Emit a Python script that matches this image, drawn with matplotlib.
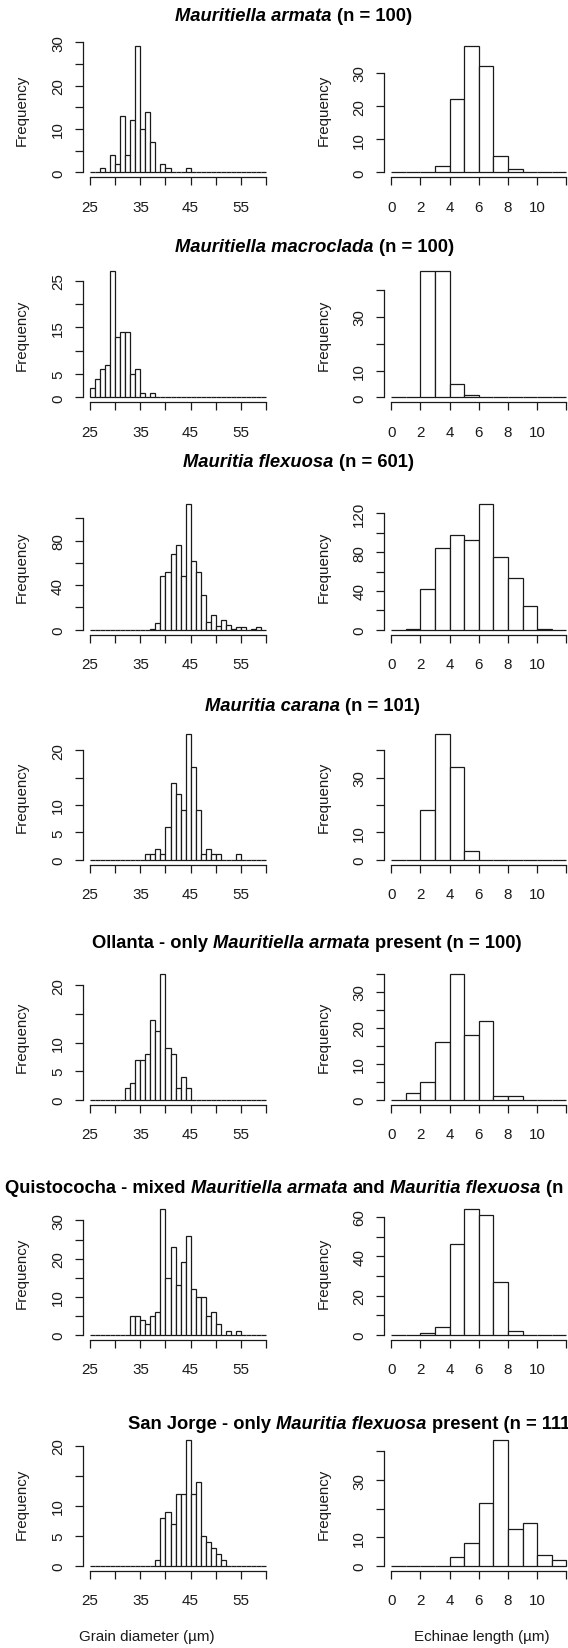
import numpy as np
import matplotlib
matplotlib.use("Agg")
import matplotlib.pyplot as plt
from matplotlib.offsetbox import TextArea, HPacker, AnnotationBbox

plt.rcParams['font.family'] = ['Liberation Sans', 'DejaVu Sans']

# histogram bins: grain diameter 25..60 um, echinae length 0..12 um (width 1)
diam_edges = np.arange(25, 61)
echin_edges = np.arange(0, 13)

# counts per 1-um bin, grain diameter (first bin = 25-26)
armata_diam = [0, 0, 1, 0, 4, 2, 13, 4, 12, 29, 10, 14, 7, 0, 2, 1, 0, 0, 0, 1,
               0, 0, 0, 0, 0, 0, 0, 0, 0, 0, 0, 0, 0, 0, 0]
macroclada_diam = [2, 4, 6, 7, 27, 13, 14, 14, 5, 6, 1, 0, 1, 0, 0, 0, 0, 0, 0, 0,
                   0, 0, 0, 0, 0, 0, 0, 0, 0, 0, 0, 0, 0, 0, 0]
flexuosa_diam = [0, 0, 0, 0, 0, 0, 0, 0, 0, 0, 0, 0, 1, 6, 48, 52, 68, 76, 48, 113,
                 62, 52, 31, 7, 13, 3, 9, 4, 1, 2, 2, 0, 1, 2, 0]
carana_diam = [0, 0, 0, 0, 0, 0, 0, 0, 0, 0, 0, 1, 1, 2, 1, 6, 14, 12, 9, 23,
               17, 9, 1, 2, 1, 1, 0, 0, 0, 1, 0, 0, 0, 0, 0]
ollanta_diam = [0, 0, 0, 0, 0, 0, 0, 2, 3, 7, 7, 8, 14, 12, 22, 9, 8, 2, 4, 2,
                0, 0, 0, 0, 0, 0, 0, 0, 0, 0, 0, 0, 0, 0, 0]
quisto_diam = [0, 0, 0, 0, 0, 0, 0, 0, 5, 5, 4, 3, 5, 6, 33, 15, 23, 13, 19, 26,
               12, 10, 10, 5, 6, 3, 0, 1, 0, 1, 0, 0, 0, 0, 0]
sanjorge_diam = [0, 0, 0, 0, 0, 0, 0, 0, 0, 0, 0, 0, 0, 1, 8, 9, 7, 12, 12, 21,
                 12, 14, 5, 4, 3, 2, 1, 0, 0, 0, 0, 0, 0, 0, 0]

# counts per 1-um bin, echinae length (first bin = 0-1)
armata_ech = [0, 0, 0, 2, 22, 38, 32, 5, 1, 0, 0, 0]
macroclada_ech = [0, 0, 47, 47, 5, 1, 0, 0, 0, 0, 0, 0]
flexuosa_ech = [0, 1, 42, 84, 98, 93, 130, 75, 53, 24, 1, 0]
carana_ech = [0, 0, 18, 46, 34, 3, 0, 0, 0, 0, 0, 0]
ollanta_ech = [0, 2, 5, 16, 35, 18, 22, 1, 1, 0, 0, 0]
quisto_ech = [0, 0, 1, 4, 46, 64, 61, 27, 2, 0, 0, 0]
sanjorge_ech = [0, 0, 0, 0, 3, 8, 22, 44, 13, 15, 4, 2]

diam_data = [armata_diam, macroclada_diam, flexuosa_diam, carana_diam,
             ollanta_diam, quisto_diam, sanjorge_diam]
ech_data = [armata_ech, macroclada_ech, flexuosa_ech, carana_ech,
            ollanta_ech, quisto_ech, sanjorge_ech]

# y tick step and the tick labels R kept (others dropped for overlap)
diam_ystep = [5, 5, 20, 5, 5, 5, 5]
diam_ylabels = [[0, 10, 20, 30], [0, 5, 15, 25], [0, 40, 80], [0, 5, 10, 20],
                [0, 5, 10, 20], [0, 10, 20, 30], [0, 5, 10, 20]]
ech_ystep = [10, 10, 20, 10, 5, 10, 10]
ech_ylabels = [[0, 10, 20, 30], [0, 10, 30], [0, 40, 80, 120], [0, 10, 30],
               [0, 10, 20, 30], [0, 20, 40, 60], [0, 10, 30]]

diam_xticks = [25, 30, 35, 40, 45, 50, 55, 60]
diam_xlabels = ['25', '', '35', '', '45', '', '55', '']
ech_xticks = [0, 2, 4, 6, 8, 10, 12]
ech_xlabels = ['0', '2', '4', '6', '8', '10', '']

titles = [
    [("Mauritiella armata", True), ("(n = 100)", False)],
    [("Mauritiella macroclada", True), ("(n = 100)", False)],
    [("Mauritia flexuosa", True), ("(n = 601)", False)],
    [("Mauritia carana", True), ("(n = 101)", False)],
    [("Ollanta - only", False), ("Mauritiella armata", True), ("present (n = 100)", False)],
    [("Quistococha - mixed", False), ("Mauritiella armata", True), ("and", False),
     ("Mauritia flexuosa", True), ("(n = 205)", False)],
    [("San Jorge - only", False), ("Mauritia flexuosa", True), ("present (n = 111)", False)],
]

# layout in pixels (measured from the top of the image)
W, H = 568, 1649
row_bottom = [178.4, 403.4, 635.7, 865.7, 1105.8, 1341.0, 1572.0]
title_x = [175, 175, 183, 205, 92, 5, 128]
title_y = [17, 248, 463, 707, 944, 1189, 1425]
plot_h = 136
left_x, left_w = 83.0, 190.1
right_x, right_w = 384.3, 189.0

ink = '#1a1a1a'
fs = 10.9

fig = plt.figure(figsize=(W / 100, H / 100), dpi=100)


def panel(x0, w, bottom, edges, counts, xticks, xlabels, ystep, ylabels):
    ax = fig.add_axes([x0 / W, (H - bottom) / H, w / W, plot_h / H])
    ax.patch.set_alpha(0)
    ax.bar(edges[:-1], counts, width=1, align='edge', color='white',
           edgecolor=ink, linewidth=0.9)
    ymax = max(counts)
    ax.set_ylim(-0.04 * ymax, 1.04 * ymax)
    span = edges[-1] - edges[0]
    ax.set_xlim(edges[0] - 0.04 * span, edges[-1] + 0.04 * span)
    yt = np.arange(0, 1.04 * ymax, ystep)
    ax.set_yticks(yt)
    ax.set_yticklabels([str(int(v)) if int(v) in ylabels else '' for v in yt],
                       rotation=90, va='center')
    ax.set_xticks(xticks)
    ax.set_xticklabels(xlabels)
    for s in ['top', 'right']:
        ax.spines[s].set_visible(False)
    ax.spines['left'].set_bounds(0, yt[-1])
    ax.spines['bottom'].set_bounds(xticks[0], xticks[-1])
    for s in ['left', 'bottom']:
        ax.spines[s].set_color(ink)
        ax.spines[s].set_linewidth(0.9)
    ax.tick_params(axis='both', direction='out', length=5.5, width=0.9,
                   color=ink, labelsize=fs, labelcolor=ink)
    ax.tick_params(axis='x', pad=10.5)
    ax.tick_params(axis='y', pad=7.5)
    fig.text((x0 - 61) / W, 1 - (bottom - plot_h / 2) / H, 'Frequency',
             rotation=90, ha='center', va='center', fontsize=fs, color=ink)
    return ax


for i in range(7):
    panel(left_x, left_w, row_bottom[i], diam_edges, diam_data[i],
          diam_xticks, diam_xlabels, diam_ystep[i], diam_ylabels[i])
    panel(right_x, right_w, row_bottom[i], echin_edges, ech_data[i],
          ech_xticks, ech_xlabels, ech_ystep[i], ech_ylabels[i])

    parts = [TextArea(t, textprops=dict(fontsize=13.2, fontweight='bold',
                                        fontstyle='italic' if it else 'normal',
                                        color='black'))
             for t, it in titles[i]]
    box = HPacker(children=parts, align='baseline', pad=0, sep=3.7)
    ab = AnnotationBbox(box, (title_x[i], H - title_y[i]), xycoords='figure pixels',
                        box_alignment=(0, 0.5), frameon=False, pad=0)
    fig.add_artist(ab)

fig.text(147 / W, 1 - 1637 / H, 'Grain diameter (µm)', ha='center', va='center',
         fontsize=fs, color=ink)
fig.text(482 / W, 1 - 1637 / H, 'Echinae length (µm)', ha='center', va='center',
         fontsize=fs, color=ink)

fig.savefig('out.png', dpi=100, facecolor='white')
